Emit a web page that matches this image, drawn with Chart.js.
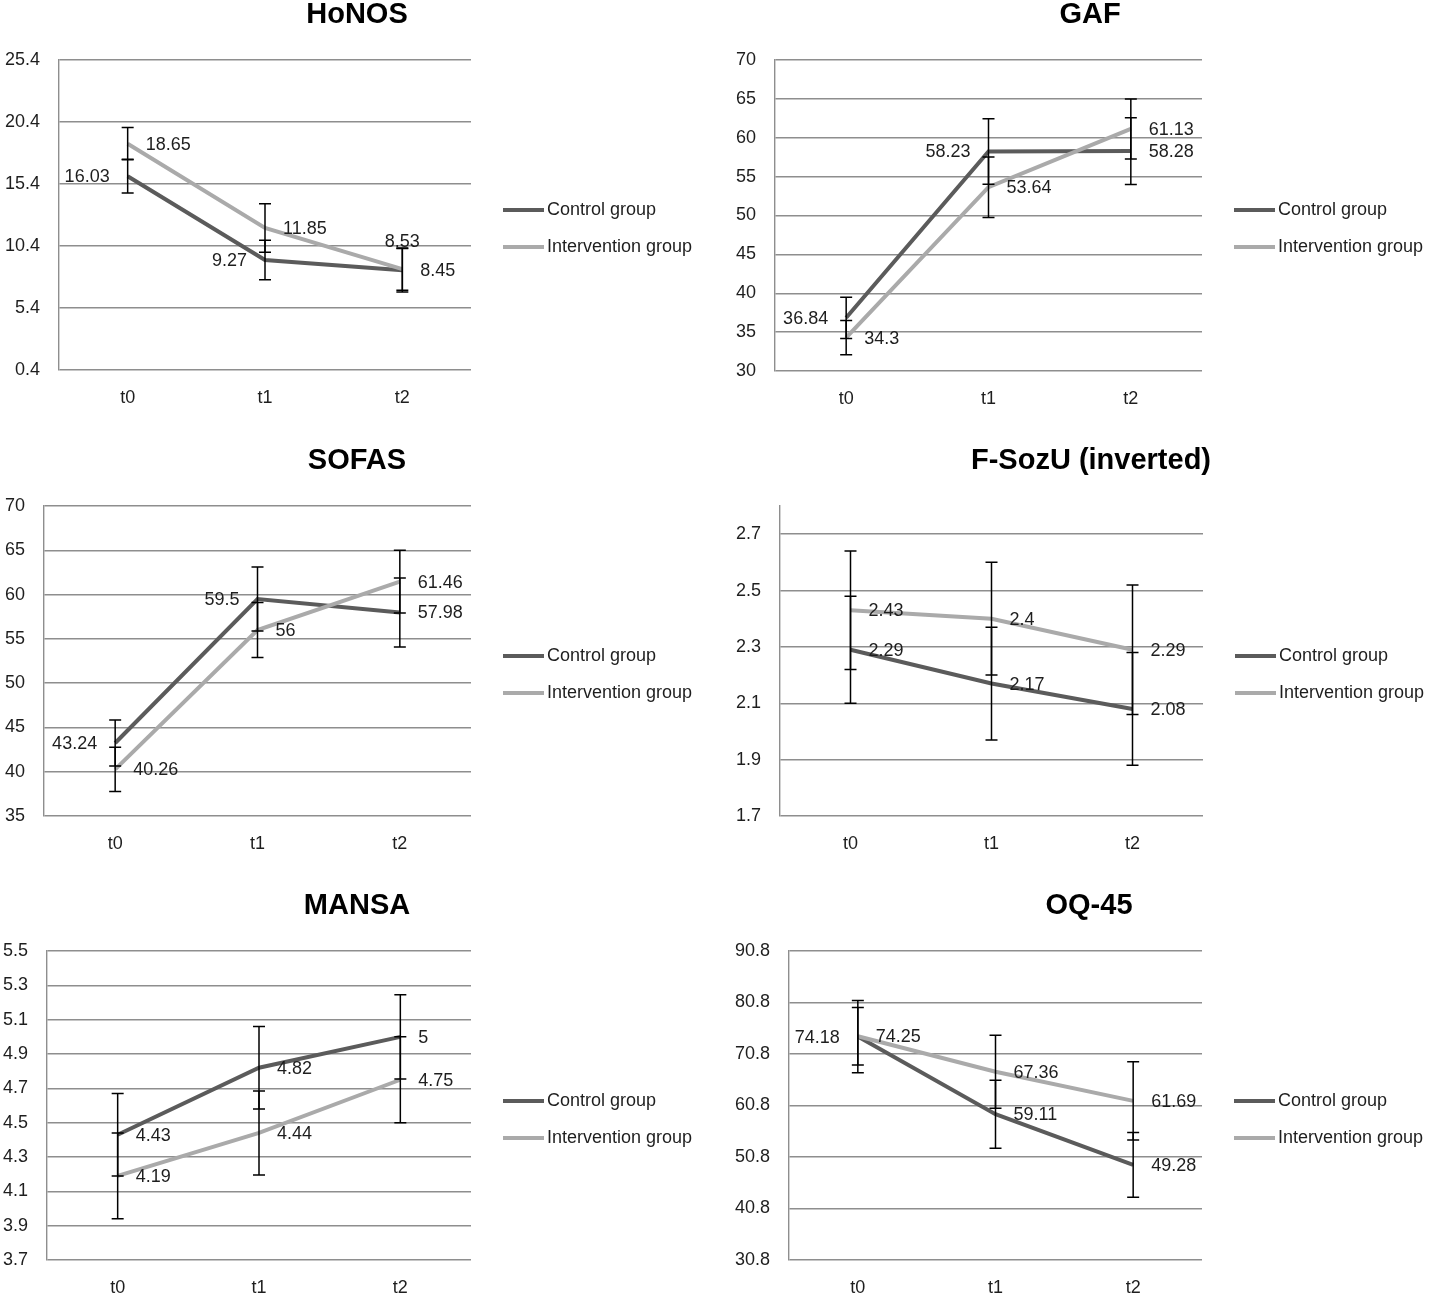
<!DOCTYPE html>
<html>
<head>
<meta charset="utf-8">
<title>Outcome measures t0 - t2</title>
<script src="https://cdn.jsdelivr.net/npm/chart.js@4.4.1/dist/chart.umd.min.js"></script>
<style>
    body { margin: 0; background: #fff; }
    .panel { position: absolute; }
</style>
</head>
<body>
<div class="panel" style="left:0;top:0"><canvas id="honos" width="720" height="445"></canvas></div>
<div class="panel" style="left:720px;top:0"><canvas id="gaf" width="719" height="445"></canvas></div>
<div class="panel" style="left:0;top:446px"><canvas id="sofas" width="720" height="445"></canvas></div>
<div class="panel" style="left:720px;top:446px"><canvas id="fsozu" width="719" height="445"></canvas></div>
<div class="panel" style="left:0;top:891px"><canvas id="mansa" width="720" height="405"></canvas></div>
<div class="panel" style="left:720px;top:891px"><canvas id="oq45" width="719" height="405"></canvas></div>

<script>
// Data: means and error bar half-widths per measure
const timePoints = ['t0', 't1', 't2'];
const seriesNames = ['Control group', 'Intervention group'];

const honosControl = [16.03, 9.27, 8.45];
const honosIntervention = [18.65, 11.85, 8.53];
const honosControlErr = [1.36, 1.6, 1.75];
const honosInterventionErr = [1.3, 1.95, 1.7];
const honosTicks = [0.4, 5.4, 10.4, 15.4, 20.4, 25.4];

const gafControl = [36.84, 58.23, 58.28];
const gafIntervention = [34.3, 53.64, 61.13];
const gafControlErr = [2.66, 4.2, 4.3];
const gafInterventionErr = [2.2, 3.9, 3.85];
const gafTicks = [30, 35, 40, 45, 50, 55, 60, 65, 70];

const sofasControl = [43.24, 59.5, 57.98];
const sofasIntervention = [40.26, 56, 61.46];
const sofasControlErr = [2.6, 3.6, 3.9];
const sofasInterventionErr = [2.5, 3.1, 3.55];
const sofasTicks = [35, 40, 45, 50, 55, 60, 65, 70];

const fsozuControl = [2.29, 2.17, 2.08];
const fsozuIntervention = [2.43, 2.4, 2.29];
const fsozuControlErr = [0.19, 0.2, 0.2];
const fsozuInterventionErr = [0.21, 0.2, 0.23];
const fsozuTicks = [1.7, 1.9, 2.1, 2.3, 2.5, 2.7];

const mansaControl = [4.43, 4.82, 5];
const mansaIntervention = [4.19, 4.44, 4.75];
const mansaControlErr = [0.24, 0.24, 0.245];
const mansaInterventionErr = [0.25, 0.245, 0.25];
const mansaTicks = [3.7, 3.9, 4.1, 4.3, 4.5, 4.7, 4.9, 5.1, 5.3, 5.5];

const oqControl = [74.18, 59.11, 49.28];
const oqIntervention = [74.25, 67.36, 61.69];
const oqControlErr = [7.0, 6.6, 6.3];
const oqInterventionErr = [5.6, 7.1, 7.6];
const oqTicks = [30.8, 40.8, 50.8, 60.8, 70.8, 80.8, 90.8];

// Styles
const CONTROL_COLOR = '#5b5b5b';
const INTERVENTION_COLOR = '#aaaaaa';
const GRID_COLOR = '#8e8e8e';
const TEXT_COLOR = '#1e1e1e';
const FONT_FAMILY = '"Liberation Sans", Arial, sans-serif';

// Panel layout (pixel geometry of each small chart)
const panels = [
    { id: 'honos', title: 'HoNOS', titleX: 357, ctrl: honosControl, int: honosIntervention,
      ctrlErr: honosControlErr, intErr: honosInterventionErr, ticks: honosTicks, min: 0.4, max: 25.4,
      left: 59, right: 471, bottom: 370,
      ctrlPos: ['left', 'left', 'right'], intPos: ['right', 'right', 'above'] },
    { id: 'gaf', title: 'GAF', titleX: 370, ctrl: gafControl, int: gafIntervention,
      ctrlErr: gafControlErr, intErr: gafInterventionErr, ticks: gafTicks, min: 30, max: 70,
      left: 55, right: 482, bottom: 371,
      ctrlPos: ['left', 'left', 'right'], intPos: ['right', 'right', 'right'] },
    { id: 'sofas', title: 'SOFAS', titleX: 357, ctrl: sofasControl, int: sofasIntervention,
      ctrlErr: sofasControlErr, intErr: sofasInterventionErr, ticks: sofasTicks, min: 35, max: 70,
      left: 44, right: 471, bottom: 370,
      ctrlPos: ['left', 'left', 'right'], intPos: ['right', 'right', 'right'] },
    { id: 'fsozu', title: 'F-SozU (inverted)', titleX: 371, ctrl: fsozuControl, int: fsozuIntervention,
      ctrlErr: fsozuControlErr, intErr: fsozuInterventionErr, ticks: fsozuTicks, min: 1.7, max: 2.8,
      left: 60, right: 483, bottom: 370,
      ctrlPos: ['right', 'right', 'right'], intPos: ['right', 'right', 'right'] },
    { id: 'mansa', title: 'MANSA', titleX: 357, ctrl: mansaControl, int: mansaIntervention,
      ctrlErr: mansaControlErr, intErr: mansaInterventionErr, ticks: mansaTicks, min: 3.7, max: 5.5,
      left: 47, right: 471, bottom: 369,
      ctrlPos: ['right', 'right', 'right'], intPos: ['right', 'right', 'right'] },
    { id: 'oq45', title: 'OQ-45', titleX: 369, ctrl: oqControl, int: oqIntervention,
      ctrlErr: oqControlErr, intErr: oqInterventionErr, ticks: oqTicks, min: 30.8, max: 90.8,
      left: 69, right: 482, bottom: 369,
      ctrlPos: ['left', 'right', 'right'], intPos: ['right', 'right', 'right'] }
];

// Draws error bars, value labels, the title and the legend of one panel
const panelDecor = {
    id: 'panelDecor',
    afterDatasetsDraw(chart, args, opts) {
        const ctx = chart.ctx;
        const yScale = chart.scales.y;

        // error bars
        ctx.save();
        ctx.strokeStyle = '#000';
        ctx.lineWidth = 1.5;
        chart.data.datasets.forEach((ds, i) => {
            const meta = chart.getDatasetMeta(i);
            meta.data.forEach((pt, j) => {
                const top = yScale.getPixelForValue(ds.data[j] + ds.errorBars[j]);
                const bot = yScale.getPixelForValue(ds.data[j] - ds.errorBars[j]);
                ctx.beginPath();
                ctx.moveTo(pt.x, top);
                ctx.lineTo(pt.x, bot);
                ctx.moveTo(pt.x - 6, top);
                ctx.lineTo(pt.x + 6, top);
                ctx.moveTo(pt.x - 6, bot);
                ctx.lineTo(pt.x + 6, bot);
                ctx.stroke();
            });
        });
        ctx.restore();

        // value labels
        ctx.save();
        ctx.font = '18px ' + FONT_FAMILY;
        ctx.fillStyle = TEXT_COLOR;
        ctx.textBaseline = 'middle';
        chart.data.datasets.forEach((ds, i) => {
            const meta = chart.getDatasetMeta(i);
            meta.data.forEach((pt, j) => {
                const pos = ds.labelPos[j];
                const text = String(ds.data[j]);
                if (pos === 'left') {
                    ctx.textAlign = 'right';
                    ctx.fillText(text, pt.x - 18, pt.y + 1);
                } else if (pos === 'above') {
                    ctx.textAlign = 'center';
                    ctx.fillText(text, pt.x, pt.y - 27);
                } else {
                    ctx.textAlign = 'left';
                    ctx.fillText(text, pt.x + 18, pt.y + 1);
                }
            });
        });
        ctx.restore();
    },
    afterDraw(chart, args, opts) {
        const ctx = chart.ctx;
        const area = chart.chartArea;

        // title
        ctx.save();
        ctx.font = 'bold 29px ' + FONT_FAMILY;
        ctx.fillStyle = '#000';
        ctx.textAlign = 'center';
        ctx.textBaseline = 'middle';
        ctx.fillText(opts.title, opts.titleX, 15);

        // legend
        ctx.font = '18px ' + FONT_FAMILY;
        ctx.fillStyle = TEXT_COLOR;
        ctx.textAlign = 'left';
        const rows = [210, 247];
        chart.data.datasets.forEach((ds, i) => {
            const x = area.right + 32;
            ctx.strokeStyle = ds.borderColor;
            ctx.lineWidth = 4;
            ctx.beginPath();
            ctx.moveTo(x, rows[i]);
            ctx.lineTo(x + 41, rows[i]);
            ctx.stroke();
            ctx.fillText(ds.label, x + 44, rows[i]);
        });
        ctx.restore();
    }
};

function makePanel(p) {
    const canvas = document.getElementById(p.id);
    const tickFont = { family: FONT_FAMILY, size: 18 };

    new Chart(canvas.getContext('2d'), {
        type: 'line',
        data: {
            labels: timePoints,
            datasets: [{
                label: seriesNames[0],
                data: p.ctrl,
                errorBars: p.ctrlErr,
                labelPos: p.ctrlPos,
                borderColor: CONTROL_COLOR,
                backgroundColor: CONTROL_COLOR,
                borderWidth: 4,
                pointRadius: 0,
                tension: 0,
                order: 1
            }, {
                label: seriesNames[1],
                data: p.int,
                errorBars: p.intErr,
                labelPos: p.intPos,
                borderColor: INTERVENTION_COLOR,
                backgroundColor: INTERVENTION_COLOR,
                borderWidth: 4,
                pointRadius: 0,
                tension: 0,
                order: 0
            }]
        },
        options: {
            responsive: false,
            animation: false,
            layout: {
                padding: { top: 60, left: 0, right: canvas.width - p.right, bottom: 0 }
            },
            plugins: {
                legend: { display: false },
                title: { display: false },
                tooltip: { enabled: false },
                panelDecor: { title: p.title, titleX: p.titleX }
            },
            scales: {
                x: {
                    offset: true,
                    grid: { display: false },
                    border: { display: false },
                    ticks: { font: tickFont, color: TEXT_COLOR, padding: 9, maxRotation: 0 },
                    afterFit(scale) { scale.height = canvas.height - p.bottom; }
                },
                y: {
                    min: p.min,
                    max: p.max,
                    afterBuildTicks(scale) { scale.ticks = p.ticks.map(v => ({ value: v })); },
                    grid: { color: GRID_COLOR, lineWidth: 1.4, drawTicks: false, tickLength: 0 },
                    border: { color: GRID_COLOR, width: 1.4 },
                    ticks: { font: tickFont, color: TEXT_COLOR, padding: 19, callback: v => String(v) },
                    afterFit(scale) { scale.width = p.left; }
                }
            }
        },
        plugins: [panelDecor]
    });
}

document.addEventListener('DOMContentLoaded', () => panels.forEach(makePanel));
</script>
</body>
</html>
